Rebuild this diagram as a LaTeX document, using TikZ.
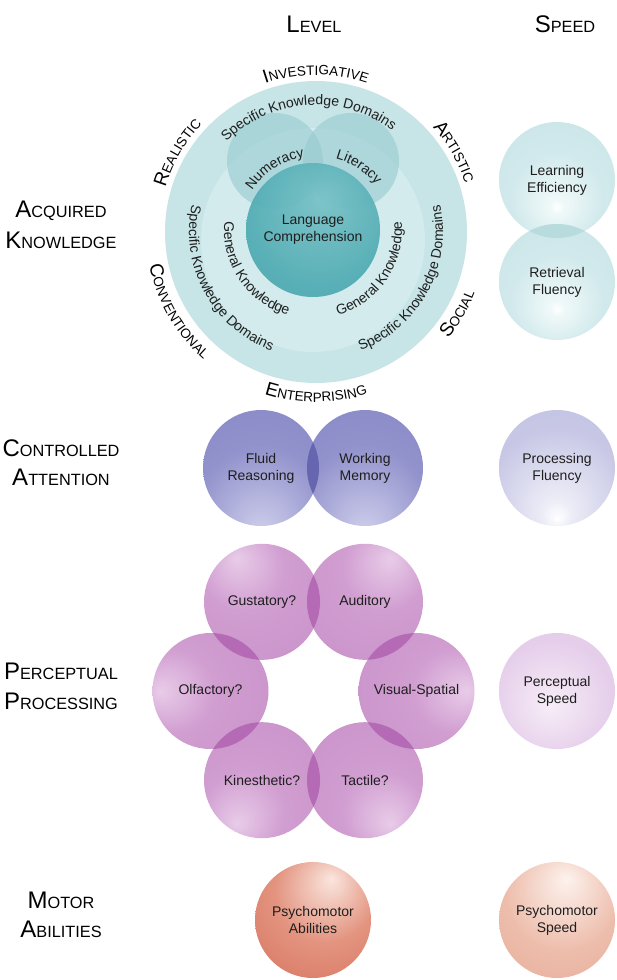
\documentclass[tikz,border=0pt]{standalone}
\usepackage{fontspec}
\setmainfont{Liberation Sans}
\usetikzlibrary{decorations.text,calc}

\definecolor{txt}{RGB}{30,30,30}
\definecolor{bigteal}{RGB}{199,228,231}
\definecolor{lightteal}{RGB}{211,235,237}
\definecolor{nlteal}{RGB}{150,202,207}
\definecolor{speedover}{RGB}{184,219,222}
\definecolor{caover}{RGB}{102,102,176}
\definecolor{orover}{RGB}{180,106,180}

\pgfdeclareradialshading{tealglow}{\pgfpoint{0bp}{-12bp}}{rgb(0bp)=(1,1,1); rgb(3bp)=(0.94,0.975,0.975); rgb(20bp)=(0.82,0.915,0.925); rgb(40bp)=(0.79,0.895,0.905); rgb(60bp)=(0.79,0.895,0.905)}
\pgfdeclareradialshading{lcshade}{\pgfpoint{4bp}{12bp}}{rgb(0bp)=(0.47,0.76,0.78); rgb(28bp)=(0.31,0.67,0.70); rgb(50bp)=(0.26,0.63,0.66); rgb(60bp)=(0.26,0.63,0.66)}
\pgfdeclareradialshading{cashade}{\pgfpoint{0bp}{-30bp}}{rgb(0bp)=(0.82,0.82,0.93); rgb(28bp)=(0.57,0.57,0.80); rgb(50bp)=(0.53,0.53,0.78); rgb(70bp)=(0.53,0.53,0.78)}
\pgfdeclareradialshading{pfshade}{\pgfpoint{0bp}{-22bp}}{rgb(0bp)=(1,1,1); rgb(6bp)=(0.93,0.93,0.97); rgb(30bp)=(0.78,0.78,0.90); rgb(50bp)=(0.75,0.75,0.89); rgb(70bp)=(0.75,0.75,0.89)}
\pgfdeclareradialshading{orchid}{\pgfpoint{0bp}{22bp}}{rgb(0bp)=(0.91,0.80,0.91); rgb(18bp)=(0.82,0.62,0.82); rgb(35bp)=(0.80,0.59,0.80); rgb(70bp)=(0.80,0.59,0.80)}
\pgfdeclareradialshading{lilac}{\pgfpoint{-3bp}{-6bp}}{rgb(0bp)=(0.97,0.93,0.97); rgb(25bp)=(0.90,0.81,0.92); rgb(50bp)=(0.88,0.78,0.90); rgb(70bp)=(0.88,0.78,0.90)}
\pgfdeclareradialshading{salmon}{\pgfpoint{8bp}{18bp}}{rgb(0bp)=(0.98,0.90,0.87); rgb(22bp)=(0.89,0.58,0.50); rgb(45bp)=(0.84,0.45,0.37); rgb(70bp)=(0.84,0.45,0.37)}
\pgfdeclareradialshading{peach}{\pgfpoint{4bp}{18bp}}{rgb(0bp)=(0.99,0.95,0.93); rgb(25bp)=(0.93,0.74,0.67); rgb(45bp)=(0.91,0.68,0.61); rgb(70bp)=(0.91,0.68,0.61)}

\newcommand\lblbig{\fontsize{24}{24}\selectfont}
\newcommand\lblsmall{\fontsize{16.3}{16.3}\selectfont}
\newcommand\rbig{\fontsize{19}{19}\selectfont}
\newcommand\rsmall{\fontsize{13.5}{13.5}\selectfont}
\newcommand\bubfont{\fontsize{14}{17}\selectfont}

\tikzset{
  bub/.style={circle, minimum size=116pt, inner sep=0pt, align=center, font=\bubfont, text=txt, shade},
  rowl/.style={anchor=base, inner sep=0pt, text=black},
  curv/.style={decorate, decoration={text along path, text align=center, text={#1}}},
}

\begin{document}
\begin{tikzpicture}[x=1pt,y=1pt]
\useasboundingbox (0,0) rectangle (617,-980);
\fill[white] (0,0) rectangle (617,-980);

% headers
\node[rowl] (lev) at (314,-32) {\lblbig L\lblsmall EVEL};
\node[rowl] (spd) at (565,-32) {\lblbig S\lblsmall PEED};

% row labels
\node[rowl] (ak1) at (61,-217) {\lblbig A\lblsmall CQUIRED};
\node[rowl] (ak2) at (61,-248) {\lblbig K\lblsmall NOWLEDGE};
\node[rowl] (ca1) at (61,-456) {\lblbig C\lblsmall ONTROLLED};
\node[rowl] (ca2) at (61,-485) {\lblbig A\lblsmall TTENTION};
\node[rowl] (pp1) at (61,-679) {\lblbig P\lblsmall ERCEPTUAL};
\node[rowl] (pp2) at (61,-709) {\lblbig P\lblsmall ROCESSING};
\node[rowl] (ma1) at (61,-908) {\lblbig M\lblsmall OTOR};
\node[rowl] (ma2) at (61,-937) {\lblbig A\lblsmall BILITIES};

% ---------- acquired knowledge: level ----------
\coordinate (bc) at (316,-232);
\coordinate (lcc) at (313,-230);
\fill[bigteal] (bc) circle (151);
\fill[lightteal] (313,-240) circle (112);
\fill[nlteal, fill opacity=0.6] (275,-161) circle (48);
\fill[nlteal, fill opacity=0.6] (351,-161) circle (48);
\node[bub, minimum size=134pt, shading=lcshade, fill opacity=0.93, text opacity=1] (lc) at (lcc) {Language\\Comprehension};

% curved texts
\path[curv={|\color{txt}\fontsize{14}{14}\selectfont|Specific Knowledge Domains}] ($(bc)+(150:127)$) arc[start angle=150, end angle=38, radius=127];
\path[curv={|\color{txt}\fontsize{14}{14}\selectfont|Specific Knowledge Domains}] ($(bc)+(160:127)$) arc[start angle=160, end angle=257, radius=127];
\path[curv={|\color{txt}\fontsize{14}{14}\selectfont|Specific Knowledge Domains}] ($(bc)+(-77:127)$) arc[start angle=-77, end angle=20, radius=127];
\path[curv={|\color{txt}\fontsize{14}{14}\selectfont|General Knowledge}] ($(lcc)+(170:89)$) arc[start angle=170, end angle=258, radius=89];
\path[curv={|\color{txt}\fontsize{14}{14}\selectfont|General Knowledge}] ($(lcc)+(-78:89)$) arc[start angle=-78, end angle=10, radius=89];
\path[curv={|\color{txt}\fontsize{14}{14}\selectfont|Numeracy}] ($(bc)+(150:76)$) arc[start angle=150, end angle=96, radius=76];
\path[curv={|\color{txt}\fontsize{14}{14}\selectfont|Literacy}] ($(bc)+(83:76)$) arc[start angle=83, end angle=30, radius=76];

% RIASEC
\path[curv={|\rbig|I|\rsmall|NVESTIGATIVE}] ($(bc)+(125:157)$) arc[start angle=125, end angle=55, radius=157];
\path[curv={|\rbig|R|\rsmall|EALISTIC}] ($(bc)+(180:157)$) arc[start angle=180, end angle=120, radius=157];
\path[curv={|\rbig|A|\rsmall|RTISTIC}] ($(bc)+(60:157)$) arc[start angle=60, end angle=0, radius=157];
\path[curv={|\rbig|S|\rsmall|OCIAL}] ($(bc)+(-60:170)$) arc[start angle=-60, end angle=0, radius=170];
\path[curv={|\rbig|E|\rsmall|NTERPRISING}] ($(bc)+(-125:170)$) arc[start angle=-125, end angle=-55, radius=170];
\path[curv={|\rbig|C|\rsmall|ONVENTIONAL}] ($(bc)+(175:170)$) arc[start angle=175, end angle=245, radius=170];

% ---------- acquired knowledge: speed ----------
\node[bub, shading=tealglow] (le) at (557,-180) {Learning\\Efficiency};
\node[bub, shading=tealglow] (rf) at (557,-282) {Retrieval\\Fluency};
\begin{scope}
  \clip (le.center) circle (58);
  \fill[speedover] (rf.center) circle (58);
\end{scope}

% ---------- controlled attention ----------
\node[bub, shading=cashade] (fr) at (261,-468) {Fluid\\Reasoning};
\node[bub, shading=cashade] (wm) at (365,-468) {Working\\Memory};
\begin{scope}
  \clip (fr.center) circle (58);
  \fill[caover] (wm.center) circle (58);
\end{scope}
\node[bub, shading=pfshade] (pf) at (557,-468) {Processing\\Fluency};

% ---------- perceptual processing ----------
\coordinate (hc) at (313.5,-691);
\node[bub, shading=orchid, shading angle=30] (gu) at ($(hc)+(120:103)$) {Gustatory?};
\node[bub, shading=orchid, shading angle=-30] (au) at ($(hc)+(60:103)$) {Auditory};
\node[bub, shading=orchid, shading angle=90] (ol) at ($(hc)+(180:103)$) {Olfactory?};
\node[bub, shading=orchid, shading angle=-90] (vs) at ($(hc)+(0:103)$) {Visual-Spatial};
\node[bub, shading=orchid, shading angle=150] (ki) at ($(hc)+(240:103)$) {Kinesthetic?};
\node[bub, shading=orchid, shading angle=-150] (ta) at ($(hc)+(300:103)$) {Tactile?};
\foreach \a/\b in {gu/au, au/vs, vs/ta, ta/ki, ki/ol, ol/gu} {
  \begin{scope}
    \clip (\a.center) circle (58);
    \fill[orover] (\b.center) circle (58);
  \end{scope}
}
\node[bub, shading=lilac] (ps) at (557,-691) {Perceptual\\Speed};

% ---------- motor ----------
\node[bub, shading=salmon] (pa) at (313,-920) {Psychomotor\\Abilities};
\node[bub, shading=peach] (pms) at (557,-920) {Psychomotor\\Speed};
\end{tikzpicture}
\end{document}
